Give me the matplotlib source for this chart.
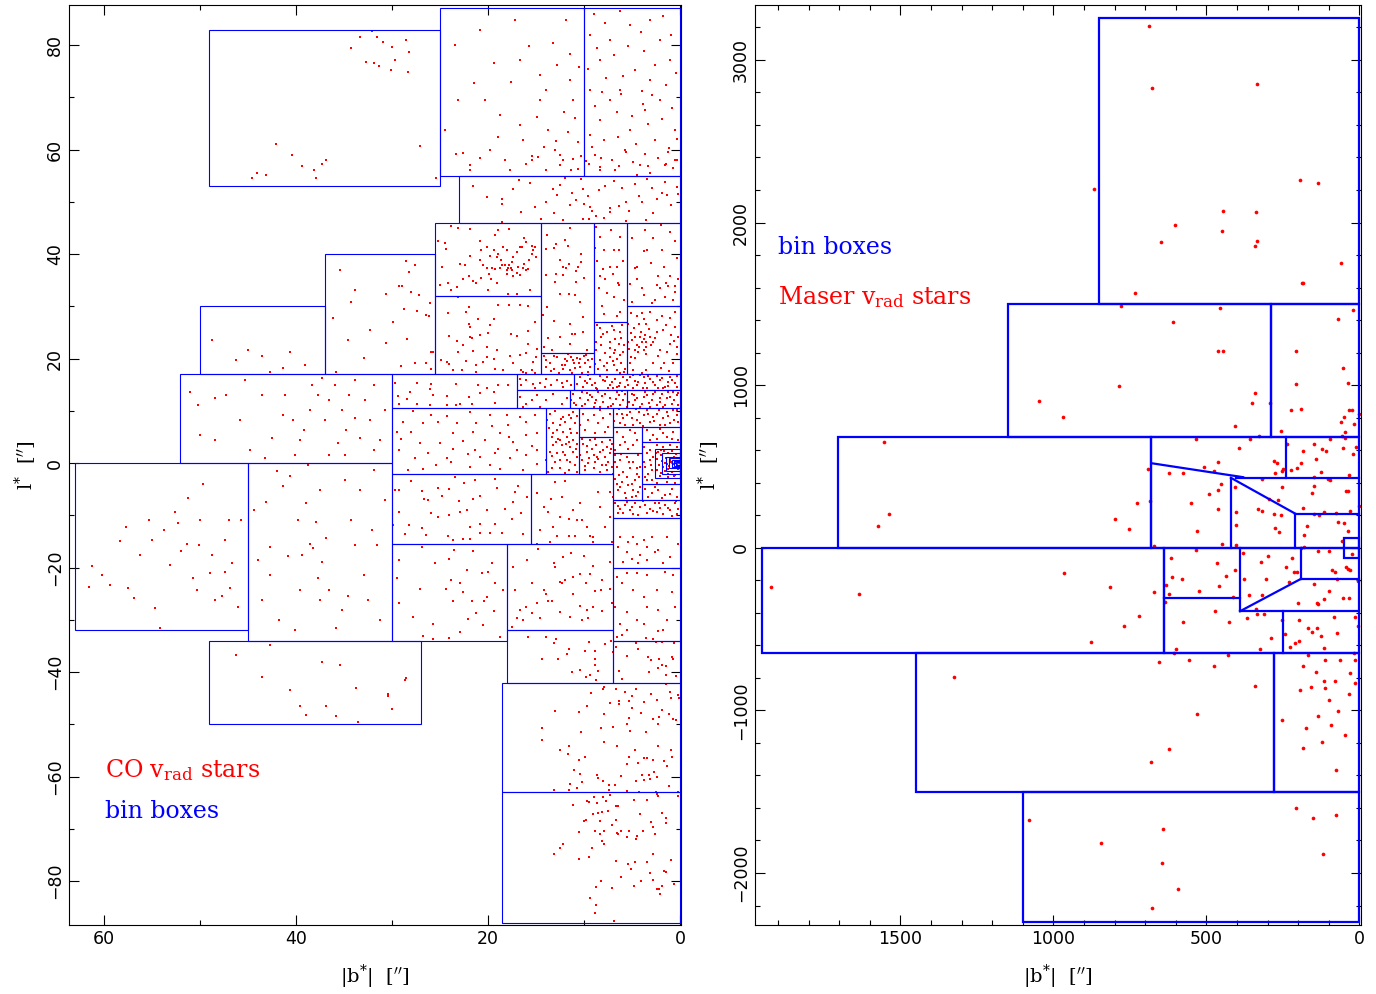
import matplotlib
matplotlib.use("Agg")
import matplotlib.pyplot as plt
from matplotlib.patches import Rectangle
from matplotlib.ticker import MultipleLocator

plt.rcParams["mathtext.fontset"] = "dejavuserif"

# ---------------- bin boxes (|b*| min, |b*| max, l* min, l* max) ----------------
co_boxes = [
    (25, 49, 53, 83), (10, 25, 55, 87.1), (0, 10, 55, 87.1), (0, 23, 46, 55),
    (14.5, 25.5, 32, 46), (14.5, 25.5, 17, 32), (9, 14.5, 21, 46), (9, 14.5, 17, 21),
    (5.5, 9, 27, 46), (5.5, 9, 17, 27), (0, 5.5, 30, 46), (0, 5.5, 17, 30),
    (25.5, 37, 17, 40), (37, 50, 17, 30), (30, 52, 0, 17), (45, 63, -32, 0),
    (30, 45, -34, 0), (27, 49, -50, -34), (17, 30, 10.5, 17), (11, 17, 14, 17),
    (0, 11, 14, 17), (11.5, 17, 10.5, 14), (5.5, 11.5, 10.5, 14), (0, 5.5, 10.5, 14),
    (14, 30, -2, 10.5), (10.5, 14, -2, 10.5), (7, 10.5, 5, 10.5), (7, 10.5, -2, 5),
    (0, 7, 7, 10.5), (4, 7, 2, 7), (4, 7, -7, 2), (0, 4, 4, 7), (0, 4, -4, 4),
    (0, 4, -7, -4), (0, 7, -10.5, -7), (0, 7, -20, -10.5), (0, 7, -34, -20),
    (0, 7, -42, -34), (15.5, 30, -15.5, -2), (7, 15.5, -15.5, -2), (18, 30, -34, -15.5),
    (7, 18, -32, -15.5), (7, 18, -42, -32), (0, 18.5, -63, -42), (0, 18.5, -88, -63),
    (0, 2.6, -2.8, 2.7), (0, 1.9, -2.1, 1.9), (0, 1.45, -1.5, 1.2), (0, 1.1, -1.0, 0.9),
    (0, 0.85, -0.8, 0.7), (0, 0.6, -0.55, 0.5), (0, 0.4, -0.35, 0.3),
]

maser_boxes = [
    (0, 850, 1500, 3260), (290, 1150, 680, 1500), (0, 290, 680, 1500),
    (680, 1705, 0, 680), (0, 680, 0, 680), (640, 1953, -650, 0), (0, 640, -650, 0),
    (0, 50, -60, 60), (280, 1450, -1500, -650), (0, 280, -1500, -650),
    (0, 1100, -2300, -1500),
]

# extra bin edges inside the maser boxes (b1, l1, b2, l2)
maser_edges = [
    (240, 430, 240, 680), (403, 430, 0, 430), (420, 0, 420, 430),
    (210, 0, 210, 210), (210, 210, 0, 210), (680, 520, 380, 434),
    (420, 430, 210, 210), (640, -310, 390, -310), (390, 0, 390, -390),
    (390, -390, 190, -190), (190, 0, 190, -190), (190, -190, 0, -190),
    (390, -390, 0, -390), (250, -390, 250, -650),
]

# ---------------- CO v_rad stars (|b*|, l*) ----------------
co_outer = [
    (32.1, 82.7), (31.5, 81.5), (33.3, 81.5), (30.9, 80.6), (34.2, 79.4), (28.5, 81.0),
    (30.0, 79.6), (28.2, 78.7), (32.7, 76.7), (31.8, 76.6), (31.3, 76.0), (30.1, 75.2),
    (28.3, 74.9), (29.7, 77.1), (42.0, 61.1), (44.5, 54.6), (44.0, 55.5), (40.4, 58.9),
    (39.3, 56.8), (38.1, 56.1), (37.3, 57.2), (36.8, 58.0), (43.1, 55.1), (37.9, 54.5),
    (27.1, 60.7), (25.4, 54.5),
    (61.25, -19.7), (60.2, -21.4), (59.3, -23.35), (58.3, -14.9), (57.7, -12.25),
    (56.25, -17.6), (55.3, -10.9), (55.0, -14.7), (54.6, -27.75), (53.75, -12.8),
    (53.1, -19.5), (52.6, -9.4), (52.2, -11.5), (51.9, -16.8), (51.35, -15.5),
    (51.25, -6.7), (50.7, -22.0), (50.3, -24.3), (50.0, -10.9), (49.6, -4.0),
    (48.96, -21.05), (48.75, -17.6), (48.4, -26.2), (47.7, -25.45), (47.4, -20.9),
    (46.98, -10.9), (46.8, -23.9), (46.04, -27.6), (45.7, -10.9), (61.5, -23.7),
    (56.8, -25.8), (54.1, -31.6), (57.5, -23.9), (50.1, -15.7), (47.4, -14.7), (46.6, -19.1),
    (44.3, -9.0), (43.1, -7.5), (42.7, -16.1), (41.9, -1.5), (41.35, -4.4), (40.8, -17.8),
    (40.6, -2.5), (39.8, -10.9), (39.6, -24.3), (39.3, -17.6), (38.96, -7.65), (38.75, -0.3),
    (38.5, -15.5), (38.2, -16.3), (37.9, -11.3), (37.7, -22.0), (37.5, -26.2), (37.3, -18.9),
    (36.8, -14.35), (36.5, -24.3), (35.8, -31.6), (35.2, -28.1), (34.6, -25.45), (34.2, -10.9),
    (33.85, -15.7), (33.3, -5.2), (32.9, -21.4), (32.5, -26.2), (32.1, -12.8), (31.5, -15.7),
    (31.25, -30.0), (30.7, -7.1), (43.5, -26.2), (41.7, -30.0), (40.1, -32.0), (42.7, -21.4),
    (43.96, -18.6), (34.9, -3.25), (37.5, -5.2), (31.8, -1.3),
    (51.0, 13.6), (50.2, 11.1), (48.4, 12.4), (47.3, 13.0), (45.3, 15.9), (43.5, 13.0),
    (42.5, 4.8), (41.35, 9.2), (40.3, 8.2), (39.6, 4.4), (38.5, 10.1), (38.3, 14.9),
    (37.7, 13.0), (37.3, 16.3), (36.9, 8.2), (36.5, 12.1), (35.9, 14.9), (35.6, 3.8),
    (35.2, 10.1), (34.8, 6.3), (34.4, 13.0), (33.85, 8.6), (33.3, 4.8), (32.8, 12.1),
    (32.3, 8.2), (31.8, 14.9), (31.25, 4.4), (30.7, 10.1), (48.4, 4.4), (45.8, 8.2),
    (44.8, 2.5), (43.2, 0.96), (40.1, 1.5), (36.5, 1.5), (31.8, 2.5), (50.0, 5.4),
    (41.1, 13.0), (39.1, 6.3), (34.9, 1.5), (33.85, 15.9),
    (45.0, 21.6), (43.5, 20.5), (41.35, 18.2), (40.6, 21.2), (39.06, 18.8), (48.75, 23.5),
    (46.25, 19.7), (42.7, 17.4),
    (28.5, 38.7), (27.6, 37.9), (28.2, 36.5), (29.2, 33.9), (28.9, 33.9), (30.6, 32.35),
    (28.0, 32.8), (27.15, 32.1), (26.04, 30.75), (28.75, 29.6), (27.4, 29.1), (26.4, 28.3),
    (26.1, 28.2), (29.86, 27.0), (28.4, 23.7), (30.55, 23.0), (25.87, 21.2), (29.06, 18.6),
    (27.6, 19.1), (26.4, 19.1), (35.4, 36.9), (33.85, 33.1), (36.1, 27.75), (34.6, 23.5),
    (32.9, 20.1), (35.8, 17.4), (32.3, 25.45), (34.2, 30.8), (25.7, 21.2), (25.9, 18.1),
    (46.25, -36.75), (43.5, -41.0), (40.6, -43.4), (39.6, -46.5), (38.96, -48.2),
    (36.8, -46.5), (35.8, -48.4), (33.5, -49.6), (37.3, -38.1), (35.4, -38.7), (30.4, -44.2),
    (28.6, -41.5), (33.75, -43.1), (42.7, -34.8), (28.5, -41.2), (30.4, -44.6), (30.0, -47.0),
]

co_north = [
    (17.2, 84.8), (20.3, 69.5), (18.75, 66.6), (16.7, 77.1), (14.6, 74.3), (13.75, 63.7),
    (13.0, 59.9), (11.9, 84.8), (11.5, 73.3), (11.15, 69.5), (10.6, 61.4), (12.5, 57.0),
    (15.4, 58.0), (16.7, 64.7), (18.2, 58.0), (19.8, 59.9), (20.8, 82.9), (23.4, 80.0),
    (23.1, 69.5), (24.5, 63.7), (21.9, 56.1), (17.7, 56.1), (14.6, 69.5),
    (13.2, 80.5), (11.4, 78.3), (12.8, 76.2), (10.5, 75.8), (13.9, 71.4), (12.1, 67.3),
    (10.9, 66.0), (14.9, 66.2), (11.7, 63.4), (12.9, 61.7), (10.3, 58.8), (11.3, 56.2),
    (14.2, 60.6), (16.3, 61.9), (18.9, 62.4), (21.4, 72.8), (17.6, 73.0), (15.7, 79.9),
    (19.4, 76.6), (22.6, 59.4),
    (9.4, 81.9), (8.3, 77.1), (7.3, 81.0), (6.25, 71.4), (4.7, 75.2), (3.6, 67.6), (2.6, 61.8),
    (2.1, 81.0), (1.04, 77.1), (0.5, 63.7), (8.3, 65.6), (5.7, 59.9), (4.2, 57.0), (1.6, 57.0),
    (8.85, 58.9), (7.3, 69.5), (5.2, 83.8), (3.1, 73.3), (9.4, 71.4), (2.1, 69.5), (0.5, 58.0),
    (6.8, 56.1), (3.1, 84.8), (8.3, 56.1), (5.2, 63.7), (9.4, 62.8),
    (9.0, 86.0), (7.8, 84.2), (6.2, 86.5), (4.1, 82.5), (1.8, 85.6), (0.9, 82.0), (8.6, 79.4),
    (6.9, 78.2), (5.4, 79.9), (3.8, 78.8), (2.6, 76.3), (0.4, 74.6), (9.6, 75.5), (7.7, 73.8),
    (5.9, 74.1), (4.0, 71.2), (2.9, 70.4), (1.5, 72.3), (8.9, 68.3), (6.6, 67.2), (5.0, 66.4),
    (3.3, 64.9), (1.9, 65.8), (0.8, 67.9), (9.2, 60.6), (7.9, 61.9), (6.5, 62.5), (4.6, 61.0),
    (3.6, 59.1), (2.3, 58.4), (1.1, 60.4), (0.3, 62.1), (7.1, 58.0), (4.9, 57.6), (9.8, 57.8),
    (3.9, 68.7), (6.1, 70.6), (8.1, 71.1),
    (23.3, 59.1), (21.9, 57.1), (20.8, 58.5), (16.0, 57.3), (15.4, 58.8), (14.8, 58.6),
    (14.0, 56.1), (12.5, 58.9), (12.2, 58.1), (11.1, 58.2), (10.6, 56.3), (9.5, 57.2),
    (8.3, 56.7), (8.2, 58.5), (6.4, 56.8), (5.6, 59.6), (3.3, 56.9), (1.5, 57.2), (1.2, 59.6),
    (0.7, 56.4), (0.35, 58.1), (3.1, 55.6), (4.5, 55.1),
    (12.5, 53.3), (13.2, 52.4), (12.8, 51.4), (14.0, 50.0), (18.5, 50.6), (18.5, 49.7),
    (16.5, 48.0), (14.5, 46.8), (13.1, 47.9), (11.5, 49.5), (10.8, 50.3), (10.3, 54.3),
    (10.07, 52.4), (10.0, 49.7), (9.4, 49.1), (9.2, 48.2), (8.75, 47.3), (7.8, 53.0),
    (7.3, 48.9), (7.3, 48.0), (6.35, 49.3), (5.66, 50.0), (5.3, 48.2), (3.5, 46.6),
    (3.4, 54.3), (2.4, 50.6), (1.9, 51.8), (1.6, 53.8), (1.4, 51.4), (0.35, 52.8),
    (0.25, 51.6), (10.07, 46.8), (9.45, 46.7), (5.6, 46.3), (18.5, 46.2),
    (21.5, 53.1), (20.1, 50.9), (17.4, 52.4), (15.6, 53.7), (15.1, 49.1), (12.0, 54.6),
    (11.2, 51.8), (9.6, 51.1), (8.4, 52.3), (6.9, 54.1), (6.0, 52.6), (4.3, 51.2),
    (4.7, 53.5), (2.9, 52.7), (0.9, 49.5), (2.8, 47.8), (4.0, 49.9), (7.9, 46.9),
    (12.2, 46.5), (16.8, 54.2),
]

co_upper = [
    (23.8, 45.4), (23.1, 45.1), (21.9, 44.8), (25.2, 42.6), (24.5, 42.2), (24.4, 41.0),
    (20.8, 42.6), (20.7, 40.8), (18.9, 44.6), (19.3, 43.6), (17.8, 44.8), (16.2, 43.1),
    (16.0, 42.4), (16.7, 41.3), (16.4, 41.4), (15.45, 41.6), (15.1, 41.4), (15.3, 40.8),
    (15.4, 40.1), (15.0, 39.5), (15.7, 38.9), (16.25, 38.2), (17.0, 40.4), (17.4, 39.5),
    (17.5, 38.5), (18.05, 40.8), (18.4, 41.4), (18.6, 38.9), (18.9, 40.1), (19.1, 39.4),
    (19.8, 39.6), (21.9, 39.7), (22.9, 38.1), (20.5, 37.9), (20.1, 37.3), (19.6, 37.3),
    (19.3, 37.1), (18.2, 37.9), (17.9, 37.4), (18.05, 36.9), (17.5, 36.9), (17.0, 36.4),
    (16.7, 36.0), (15.8, 37.1), (17.4, 35.8), (18.05, 36.2), (19.9, 36.2), (19.7, 35.3),
    (20.7, 35.5), (21.5, 34.8), (22.6, 35.2), (24.8, 37.6), (25.0, 34.1), (23.2, 33.7),
    (19.97, 33.1), (17.9, 32.3), (17.0, 32.3), (15.6, 33.1), (18.75, 37.3), (18.5, 37.9),
    (17.8, 37.9), (17.6, 37.3), (16.9, 37.6), (16.3, 37.3), (16.0, 36.9), (19.4, 40.8),
    (20.1, 41.4), (20.8, 38.9), (22.4, 37.9), (22.0, 35.9), (24.1, 34.4), (23.8, 33.1),
    (21.2, 34.4), (19.1, 34.4),
    (24.2, 28.8), (22.0, 29.9), (22.3, 28.9), (23.1, 31.8), (21.0, 27.6), (19.4, 27.5),
    (22.0, 26.7), (19.8, 26.5), (21.9, 26.0), (18.9, 30.2), (17.8, 30.2), (16.7, 30.3),
    (15.8, 30.1), (15.1, 27.0), (15.8, 25.3), (17.0, 24.4), (17.6, 24.7), (19.96, 24.9),
    (21.9, 24.2), (24.0, 24.4), (23.2, 23.4), (22.6, 22.7), (21.7, 24.0), (20.8, 24.6),
    (23.1, 21.2), (21.5, 21.4), (20.1, 22.3), (19.1, 21.6), (17.7, 20.5), (16.7, 20.7),
    (15.8, 22.9), (16.0, 21.0), (15.0, 20.4), (14.9, 21.8), (15.3, 19.4), (24.9, 19.7),
    (24.3, 19.3), (24.0, 18.9), (23.6, 17.8), (22.7, 17.8), (22.3, 19.5), (21.2, 18.8),
    (21.25, 17.5), (20.5, 19.4), (19.4, 19.85), (19.3, 18.1), (18.4, 17.8), (17.4, 19.2),
    (16.5, 17.9), (16.3, 17.5), (16.0, 17.3), (15.45, 17.9), (15.1, 17.3), (20.1, 20.4),
    (11.5, 45.0), (13.8, 43.6), (13.9, 40.9), (12.9, 41.9), (13.1, 41.1), (11.98, 42.7),
    (11.7, 41.6), (12.5, 38.9), (11.9, 37.3), (12.2, 37.5), (11.6, 38.1), (10.3, 40.1),
    (10.3, 38.5), (10.6, 37.5), (10.8, 36.8), (12.9, 36.3), (13.96, 36.1), (13.0, 34.7),
    (12.2, 36.0), (10.8, 34.7), (10.0, 35.5), (12.5, 32.3), (11.6, 32.3), (10.9, 32.2),
    (10.4, 30.9), (13.8, 29.9), (14.3, 28.3), (13.1, 27.2), (11.5, 26.7), (10.07, 28.0),
    (11.2, 24.8), (10.9, 24.7), (10.07, 25.1), (12.5, 24.2), (13.7, 23.9), (14.2, 22.3),
    (13.3, 21.6), (11.5, 22.9), (9.7, 21.6),
    (14.2, 20.5), (13.1, 18.1), (13.9, 18.4), (13.5, 19.1), (12.3, 18.8), (11.8, 19.6),
    (11.3, 20.4), (11.0, 19.1), (10.7, 20.2), (10.4, 18.4), (10.0, 20.5), (9.55, 19.7),
    (9.4, 18.4), (12.2, 18.0), (12.6, 17.2), (11.2, 17.3), (10.2, 17.3), (9.55, 17.5),
    (11.7, 20.9), (11.1, 19.7), (10.4, 20.0), (9.9, 19.1), (11.98, 20.0),
    (14.0, 19.8), (13.4, 17.6), (12.8, 20.3), (12.0, 18.8), (11.5, 17.8), (10.9, 18.3),
    (10.5, 19.2), (9.8, 20.7), (9.2, 19.9), (13.1, 20.6),
    (7.2, 44.6), (8.3, 43.2), (7.9, 40.8), (6.9, 40.8), (6.35, 40.8), (8.6, 38.6),
    (8.05, 37.1), (7.3, 37.5), (6.6, 37.6), (7.8, 35.2), (6.4, 34.1), (7.6, 32.5),
    (6.9, 31.8), (7.9, 28.5), (6.25, 29.0), (6.5, 34.5), (8.3, 35.8),
    (8.7, 45.2), (6.2, 43.3), (8.8, 41.2), (5.9, 38.6), (7.0, 36.2), (8.4, 33.6),
    (5.8, 31.3), (8.1, 30.1), (6.6, 28.1),
    (8.3, 25.8), (7.6, 25.2), (6.9, 25.5), (6.25, 25.2), (6.1, 23.9), (6.8, 23.7),
    (7.3, 23.2), (8.2, 22.6), (8.7, 21.6), (6.8, 21.6), (5.9, 21.3), (7.8, 21.0),
    (7.3, 20.4), (6.6, 20.0), (8.3, 19.7), (7.6, 19.1), (6.9, 18.8), (6.1, 19.1),
    (8.5, 18.1), (7.6, 17.8), (6.6, 17.8), (5.7, 18.1), (6.25, 17.2), (8.75, 23.2),
    (8.2, 24.2), (7.3, 21.95), (6.9, 21.0), (6.4, 22.9),
    (8.6, 26.5), (7.1, 26.2), (6.0, 26.4), (8.0, 24.8), (5.8, 22.6), (8.9, 19.0),
    (7.0, 19.6), (6.2, 20.7), (7.9, 18.6), (5.8, 17.4),
    (1.0, 44.3), (0.5, 42.6), (4.96, 43.1), (2.8, 43.1), (3.8, 40.6), (3.4, 40.8),
    (1.9, 40.8), (4.5, 37.5), (4.7, 37.3), (2.3, 35.8), (1.0, 35.8), (0.2, 35.3),
    (2.4, 34.1), (2.1, 33.6), (1.5, 34.4), (1.3, 33.9), (0.5, 34.0), (4.0, 33.6),
    (5.2, 34.3), (1.6, 31.8), (0.5, 32.8), (0.7, 31.2), (2.6, 31.2), (2.95, 30.7),
    (3.6, 44.7), (2.0, 45.5), (0.3, 39.2), (3.0, 38.3), (4.5, 35.3), (1.7, 37.6),
    (5.0, 30.8), (3.7, 32.2),
    (5.1, 28.8), (4.5, 28.2), (4.0, 28.65), (3.1, 29.0), (2.4, 27.4), (1.5, 26.4),
    (1.0, 27.7), (0.5, 29.0), (0.5, 26.1), (5.4, 26.7), (4.3, 26.7), (3.5, 26.7),
    (5.1, 24.95), (4.7, 24.2), (4.2, 24.2), (3.65, 24.5), (3.1, 24.2), (2.8, 23.2),
    (3.5, 23.2), (4.0, 23.2), (4.5, 22.6), (5.0, 23.55), (5.4, 23.2), (4.7, 21.6),
    (4.3, 22.3), (3.8, 21.6), (3.5, 22.3), (2.1, 21.6), (1.0, 22.9), (0.3, 22.3),
    (0.35, 20.9), (5.1, 20.4), (4.7, 20.2), (3.5, 20.9), (2.8, 19.1), (1.7, 19.1),
    (0.7, 19.1), (4.9, 17.8), (3.5, 17.8), (4.0, 17.3), (5.2, 19.1), (2.4, 25.1),
    (1.8, 25.5), (0.9, 24.5), (0.2, 24.2),
    (4.8, 25.9), (4.1, 25.2), (3.8, 23.8), (3.2, 25.7), (2.6, 24.0), (4.4, 21.2),
    (3.0, 22.6), (2.3, 20.5), (1.4, 21.2), (0.6, 23.4), (1.9, 28.2), (3.7, 27.6),
    (2.0, 18.2), (1.1, 17.7), (5.3, 21.9),
]

co_middle = [
    (29.7, 15.4), (29.4, 12.8), (28.4, 12.2), (27.4, 15.4), (25.9, 15.2), (26.0, 14.1),
    (25.7, 13.1), (24.3, 12.8), (23.3, 11.1), (22.9, 11.4), (22.0, 12.7), (23.3, 15.1),
    (21.0, 14.9), (19.3, 11.6), (17.9, 14.9), (20.8, 13.5), (20.1, 14.3), (21.7, 11.3),
    (24.3, 11.1), (26.0, 11.2), (27.4, 11.4), (29.2, 11.4), (28.1, 13.6), (19.4, 13.6),
    (18.9, 14.9),
    (16.5, 14.9), (16.0, 15.9), (15.3, 15.1), (14.6, 15.4), (13.9, 16.2), (13.4, 14.9),
    (12.85, 15.9), (12.3, 15.4), (11.8, 15.8), (11.3, 14.9), (14.06, 14.6), (15.1, 14.3),
    (16.7, 16.2), (12.15, 14.6),
    (10.4, 16.5), (9.9, 15.75), (9.4, 16.2), (8.85, 15.25), (8.3, 16.65), (7.8, 15.75),
    (7.3, 14.9), (6.8, 16.2), (6.25, 15.4), (5.75, 14.6), (5.2, 16.5), (4.7, 15.75),
    (4.2, 16.8), (3.65, 15.25), (3.1, 16.2), (2.6, 14.9), (2.1, 15.9), (1.56, 14.6),
    (1.04, 16.5), (0.52, 15.4), (10.07, 14.6), (8.7, 14.3), (6.95, 14.3), (4.86, 14.3),
    (3.47, 14.3), (1.74, 14.3), (9.7, 15.25), (7.6, 16.4), (5.56, 15.9), (3.8, 16.4),
    (2.43, 16.65), (1.2, 15.6), (0.35, 14.5), (6.4, 14.7), (4.5, 14.9),
    (10.7, 15.1), (9.6, 16.8), (8.6, 14.2), (8.0, 16.0), (7.1, 15.6), (6.6, 14.5),
    (5.9, 16.4), (5.4, 15.0), (4.4, 15.5), (3.9, 14.4), (3.3, 16.7), (2.8, 15.5),
    (2.3, 14.3), (1.9, 16.3), (1.3, 14.8), (0.8, 15.9), (0.3, 16.6), (9.2, 14.9),
    (7.5, 14.3), (4.9, 16.9),
    (16.7, 12.7), (16.0, 11.4), (14.9, 13.0), (13.9, 12.05), (13.2, 13.3), (12.3, 11.4),
    (16.3, 10.8), (14.6, 10.8), (11.8, 12.4), (15.45, 12.05),
    (11.1, 13.3), (10.4, 12.4), (9.9, 11.4), (9.4, 13.0), (8.7, 12.05), (8.3, 10.8),
    (7.8, 13.3), (7.3, 12.4), (6.95, 11.4), (6.4, 13.0), (5.9, 12.05), (5.56, 10.8),
    (10.8, 11.1), (9.0, 10.8), (7.5, 10.8), (6.25, 11.1), (10.24, 13.65), (8.5, 13.65),
    (6.6, 13.65), (11.3, 12.05), (9.55, 12.05), (7.99, 11.7), (5.75, 13.3),
    (5.0, 13.3), (4.5, 12.4), (4.0, 11.4), (3.47, 13.0), (2.95, 12.05), (2.43, 11.1),
    (1.9, 13.3), (1.4, 12.4), (0.87, 11.4), (0.35, 13.0), (4.86, 11.1), (3.1, 10.8),
    (1.74, 10.8), (0.7, 13.65), (3.65, 13.65), (4.7, 12.05), (2.08, 11.7), (1.04, 12.7),
    (0.17, 11.1), (2.78, 13.3),
    (11.0, 11.6), (10.2, 10.9), (9.7, 13.5), (8.9, 11.5), (8.1, 12.8), (7.2, 10.9),
    (6.7, 12.2), (6.0, 13.8), (5.3, 11.8), (4.8, 13.0), (4.2, 10.7), (3.8, 12.6),
    (3.2, 11.6), (2.6, 13.6), (2.1, 12.4), (1.6, 11.2), (1.2, 13.6), (0.6, 12.0),
    (0.2, 13.4), (9.2, 12.6),
    (28.8, 7.9), (26.7, 7.6), (25.2, 7.8), (23.2, 7.6), (21.2, 7.6), (19.6, 7.1),
    (17.9, 7.4), (29.0, 4.7), (27.1, 3.9), (25.0, 3.8), (22.6, 4.3), (20.3, 4.5),
    (17.8, 5.0), (16.0, 5.4), (14.9, 5.7), (27.6, 0.9), (26.2, 2.0), (24.3, 0.9),
    (22.1, 1.7), (20.8, 1.2), (19.3, 1.85), (17.7, 0.9), (16.0, 1.5), (28.3, -1.3),
    (26.7, -1.2), (25.35, -0.4), (23.8, 0.25), (21.9, -0.7), (19.8, -0.4), (18.7, -1.2),
    (16.3, -1.3), (14.9, -0.2), (15.1, 9.2), (16.7, 8.9), (18.05, 9.2), (16.0, 7.9),
    (29.5, 6.0), (27.95, 6.0), (23.6, 5.7), (21.5, 6.0), (18.75, 5.8), (17.4, 4.1),
    (15.45, 3.25), (24.3, 9.0), (21.9, 9.8), (19.8, 9.2), (25.9, 9.2), (27.8, 10.0),
    (23.6, 2.8), (21.35, 2.6), (18.9, 2.8), (17.0, 2.6), (14.9, 2.5), (29.2, 2.5),
    (13.2, 7.6), (12.5, 7.27), (11.98, 7.9), (11.3, 8.55), (10.9, 7.6), (12.85, 6.3),
    (12.15, 6.0), (11.46, 6.6), (10.76, 5.7), (13.37, 5.04), (12.7, 4.72), (11.8, 5.04),
    (11.1, 4.4), (13.2, 3.44), (12.3, 3.44), (11.46, 3.13), (10.76, 3.76), (13.5, 2.17),
    (12.85, 1.85), (11.98, 1.53), (11.1, 2.17), (13.9, 0.57), (13.0, 0.25), (11.8, 0.57),
    (10.9, -0.38), (12.5, -1.02), (13.37, -1.02), (11.6, -1.34), (10.76, 1.21),
    (12.15, 8.87), (13.5, 9.5), (11.1, 9.8), (12.5, 4.4), (11.6, 4.08), (13.2, 5.7),
    (11.3, 5.7), (12.15, 2.17),
    (13.8, 8.2), (13.0, 9.9), (12.4, 8.5), (11.6, 9.3), (10.7, 9.0), (13.6, 6.7),
    (12.9, 4.0), (11.9, 3.6), (10.8, 2.8), (13.3, 1.3), (12.5, 0.6), (11.4, 0.2),
    (10.7, -1.6), (12.0, -1.8), (13.7, -1.6),
    (10.07, 9.5), (9.55, 8.2), (9.0, 9.2), (8.5, 7.6), (7.99, 8.55), (7.45, 6.95),
    (9.9, 6.3), (8.85, 5.7), (7.8, 6.0), (7.3, 9.5), (10.4, 7.27), (8.3, 10.1),
    (10.07, 3.76), (9.4, 4.4), (8.7, 3.44), (8.16, 4.08), (7.64, 3.13), (7.1, 3.76),
    (9.7, 2.17), (9.0, 1.53), (8.3, 2.17), (7.8, 1.21), (7.3, 1.85), (10.24, 0.57),
    (9.55, -0.06), (8.85, 0.25), (8.16, -0.38), (7.45, 0.25), (9.9, -1.34), (9.0, -1.02),
    (8.3, -1.66), (7.64, -1.34), (7.1, -0.7), (8.5, 0.89), (9.2, 2.8), (10.4, 1.53),
    (10.2, 4.6), (9.7, 3.2), (8.9, 4.7), (8.0, 2.6), (7.3, 4.5), (9.5, 0.9), (8.6, 1.2),
    (7.7, -0.4), (7.2, 2.8), (9.9, -0.5),
    (6.6, 9.5), (5.9, 8.55), (5.2, 9.8), (4.5, 8.2), (3.8, 9.2), (3.1, 7.9), (2.43, 9.5),
    (1.74, 8.55), (1.04, 7.6), (0.35, 9.2), (6.25, 7.6), (4.86, 7.27), (3.47, 10.1),
    (2.08, 7.27), (0.7, 10.1), (5.56, 9.2), (2.78, 8.87), (1.39, 9.8), (0.17, 7.9), (4.17, 7.6),
    (6.9, 8.0), (6.3, 10.3), (5.7, 7.3), (5.0, 8.6), (4.3, 9.7), (3.9, 7.2), (3.3, 9.4),
    (2.7, 8.0), (2.2, 10.2), (1.6, 7.4), (1.2, 9.0), (0.6, 8.3), (0.3, 10.2), (4.6, 10.3),
    (6.0, 9.4),
    (6.6, 6.0), (5.9, 5.04), (5.2, 6.3), (4.5, 4.4), (6.25, 3.44), (5.4, 2.8), (4.7, 5.7),
    (6.8, 2.5), (4.86, 3.44), (5.73, 4.08),
    (6.77, 1.53), (6.25, 0.57), (5.56, 1.21), (4.86, 0.25), (4.34, 1.53), (6.6, -0.7),
    (5.9, -1.66), (5.2, -1.02), (4.5, -1.98), (6.77, -2.94), (6.08, -3.57), (5.4, -4.21),
    (4.7, -3.25), (4.17, -4.53), (6.42, -5.17), (5.73, -5.8), (5.03, -6.44), (4.34, -5.49),
    (6.94, -6.44), (4.86, -5.17), (5.56, -2.62), (6.25, -4.53), (4.17, -0.7), (6.94, -1.98),
    (6.8, 0.2), (6.1, 1.7), (5.3, 0.3), (4.5, -0.9), (6.3, -2.2), (5.0, -3.9), (4.3, -2.7),
    (6.6, -4.0), (5.6, -6.7), (4.6, -6.2),
    (3.47, 6.3), (2.78, 5.36), (2.08, 6.6), (1.39, 5.04), (0.7, 6.0), (0.17, 4.4),
    (3.1, 4.4), (1.74, 5.8), (0.87, 4.72), (2.43, 4.72),
    (3.8, 3.13), (3.47, 1.85), (3.1, 0.57), (3.65, -0.7), (3.3, -1.98), (2.95, -3.25),
    (2.43, 3.44), (1.74, 3.13), (1.04, 3.44), (0.35, 3.13), (3.47, -3.25), (2.43, -3.76),
    (1.39, -3.57), (0.52, -3.76), (3.8, 0.25), (3.1, 2.5), (2.95, -1.34), (3.65, -2.62),
    (2.78, 1.21), (3.06, -0.38),
    (2.3, 2.2), (2.0, 1.5), (1.7, 2.4), (1.2, 1.9), (0.8, 2.3), (0.4, 1.7), (2.4, 0.8),
    (1.9, 0.4), (1.5, 1.0), (1.0, 0.6), (0.6, 1.1), (0.2, 0.5), (2.2, -0.3), (1.8, -0.8),
    (1.4, -0.2), (1.1, -0.6), (0.7, -0.1), (0.3, -0.4), (2.4, -1.4), (2.0, -1.9),
    (1.6, -1.5), (1.2, -2.1), (0.8, -1.6), (0.5, -2.2), (0.2, -1.1), (2.1, -2.5),
    (1.3, -2.6), (0.6, -2.5), (0.9, 0.2), (0.5, 0.3), (0.35, -0.15), (0.15, 0.1),
    (1.6, 0.1), (1.2, -1.1), (0.4, 0.9), (0.7, -0.9), (2.5, 1.9), (1.95, 2.5),
    (3.65, -4.85), (2.95, -5.8), (2.26, -5.17), (1.56, -6.1), (0.87, -4.85), (0.35, -6.44),
    (3.3, -6.57), (1.9, -6.76), (1.04, -5.93), (2.6, -4.53),
    (6.77, -7.72), (6.25, -8.68), (5.73, -8.04), (5.2, -9.0), (4.7, -7.72), (4.17, -8.36),
    (3.65, -8.04), (3.1, -8.68), (2.6, -7.72), (2.08, -8.49), (1.56, -8.04), (1.04, -9.0),
    (0.52, -7.72), (0.17, -8.68), (6.42, -9.63), (4.86, -9.76), (3.47, -9.63),
    (1.74, -9.76), (0.35, -9.76), (5.56, -7.4), (2.43, -9.3),
    (6.5, -8.2), (5.9, -9.5), (5.0, -8.3), (4.4, -9.9), (3.9, -7.3), (2.8, -9.1),
    (2.2, -7.6), (1.3, -8.6), (0.8, -10.1), (0.4, -7.3),
]

co_lower = [
    (6.25, -14.1), (5.4, -15.06), (4.86, -14.1), (4.5, -15.4), (3.8, -14.7), (3.47, -16.0),
    (2.95, -14.1), (2.26, -16.65), (1.39, -14.1), (0.17, -15.4), (5.9, -18.9), (5.03, -18.25),
    (4.34, -19.2), (3.47, -18.6), (2.6, -16.97), (1.74, -19.2), (6.42, -16.0), (4.17, -17.6),
    (5.56, -16.97), (1.04, -17.9),
    (6.6, -21.76), (5.56, -21.1), (4.5, -20.99), (3.47, -21.44), (1.56, -20.8), (0.7, -21.44),
    (6.08, -23.0), (4.86, -24.3), (3.8, -25.6), (2.43, -24.3), (0.87, -24.6), (6.77, -27.5),
    (5.56, -28.5), (4.5, -30.05), (3.47, -27.5), (2.26, -28.1), (1.39, -30.05), (0.52, -27.5),
    (6.25, -30.7), (3.8, -30.7), (5.56, -31.96), (1.74, -31.96), (2.78, -33.56), (6.6, -33.2),
    (29.7, -5.17), (29.2, -5.17), (28.0, -3.45), (26.9, -5.3), (26.6, -6.9), (26.2, -6.96),
    (25.2, -4.66), (24.8, -6.32), (24.0, -4.85), (23.4, -2.74), (23.0, -7.27), (22.5, -3.89),
    (22.2, -9.0), (21.5, -6.9), (21.35, -3.13), (20.8, -6.19), (20.07, -8.87), (19.3, -3.06),
    (19.0, -4.72), (18.2, -8.74), (17.4, -7.34), (17.2, -5.6), (16.9, -4.34), (15.97, -6.44),
    (29.2, -9.44), (28.2, -11.74), (26.9, -12.5), (25.9, -9.63), (25.2, -10.27), (24.0, -9.95),
    (22.9, -9.3), (21.9, -12.2), (20.8, -11.55), (19.3, -11.55), (18.5, -13.46), (17.5, -10.78),
    (16.5, -9.63), (29.86, -11.87), (28.6, -13.59), (26.4, -13.78), (24.1, -13.97),
    (22.6, -14.6), (20.8, -13.46), (19.8, -13.33), (16.3, -13.59), (23.6, -14.74), (21.9, -14.55),
    (13.0, -3.57), (11.98, -3.38), (14.9, -5.8), (13.47, -6.83), (12.3, -6.44), (11.1, -9.0),
    (10.4, -7.72), (8.5, -5.49), (7.3, -5.49), (10.24, -10.91), (9.7, -12.2), (13.26, -12.2),
    (12.85, -13.97), (11.6, -13.91), (10.9, -13.91), (9.38, -13.91), (9.03, -14.1),
    (7.8, -12.2), (14.2, -8.36), (12.5, -10.27), (13.7, -9.3), (11.6, -10.6), (8.33, -8.36),
    (7.3, -10.27), (14.6, -12.8), (7.1, -15.06), (9.03, -15.06), (13.5, -15.06), (14.9, -15.4),
    (10.7, -10.91),
    (29.2, -18.57), (26.9, -16.0), (25.5, -19.08), (24.0, -18.25), (23.5, -16.65),
    (22.85, -23.03), (22.2, -20.48), (21.5, -16.84), (20.66, -20.99), (19.6, -19.08),
    (19.3, -23.03), (29.5, -22.07), (27.1, -24.18), (24.4, -24.18), (23.8, -22.39),
    (22.6, -24.75), (21.7, -26.35), (21.2, -28.65), (20.4, -26.35), (20.07, -25.58),
    (19.97, -20.8), (18.4, -24.3), (23.6, -26.35), (22.05, -29.92), (19.4, -28.26),
    (20.5, -31.0), (26.7, -33.1), (24.0, -33.5), (18.75, -33.24), (25.7, -33.56),
    (29.2, -26.86), (27.8, -29.4), (25.7, -30.7), (22.9, -32.3),
    (14.8, -16.5), (13.1, -19.08), (12.2, -17.93), (11.3, -17.16), (10.0, -17.8), (9.03, -19.71),
    (7.3, -18.88), (17.2, -24.3), (15.45, -22.9), (14.2, -24.3), (13.7, -26.4), (13.0, -19.84),
    (12.5, -22.7), (11.98, -22.39), (11.1, -21.76), (10.4, -21.25), (9.8, -23.03), (9.38, -21.3),
    (8.85, -24.5), (8.16, -22.27), (7.3, -24.18), (16.0, -27.6), (14.9, -26.86), (13.37, -26.4),
    (12.3, -23.03), (11.1, -25.07), (10.4, -27.3), (9.7, -28.1), (9.03, -27.5), (8.23, -24.3),
    (7.1, -26.86), (17.0, -29.73), (16.3, -30.05), (15.45, -28.77), (14.6, -29.73),
    (13.9, -24.95), (12.5, -28.45), (11.46, -29.4), (10.24, -30.05), (9.55, -29.73),
    (8.16, -28.26), (16.7, -28.1), (17.5, -31.3), (15.97, -18.57), (17.4, -19.84),
    (15.8, -33.24), (13.96, -33.24), (12.9, -33.6), (13.1, -34.5), (11.56, -35.6),
    (11.8, -36.6), (14.4, -37.4), (12.74, -37.5), (9.93, -35.98), (8.85, -35.9),
    (8.85, -37.5), (8.85, -38.66), (9.48, -34.26), (7.85, -34.7), (7.2, -34.07),
    (11.2, -39.9), (10.38, -39.5), (9.8, -40.9), (9.38, -40.5), (8.5, -39.8), (8.75, -41.5),
    (6.08, -32.9), (3.54, -33.4), (2.33, -32.1), (5.49, -36.9), (4.62, -34.5), (4.41, -35.6),
    (3.37, -37.1), (3.06, -37.7), (2.19, -37.5), (1.91, -38.7), (1.49, -38.8), (0.83, -37.1),
    (0.76, -37.4), (0.66, -34.5), (6.67, -35.15), (6.35, -39.8), (6.0, -41.4), (3.2, -39.9),
    (2.29, -39.3), (1.46, -40.5), (0.42, -40.8), (6.94, -36.2), (2.53, -34.3), (1.84, -34.2),
]

co_south = [
    (9.27, -43.9), (8.06, -43.2), (7.88, -42.8), (6.7, -43.3), (5.73, -43.8), (5.28, -45.5),
    (5.03, -44.5), (4.58, -43.3), (3.75, -45.7), (3.06, -44.15), (2.43, -45.4), (1.46, -42.3),
    (1.04, -43.8), (0.97, -45.04), (0.17, -44.4), (0.1, -45.04), (13.0, -47.4), (10.52, -47.6),
    (9.65, -46.5), (7.92, -48.1), (7.3, -45.9), (6.35, -45.55), (6.35, -46.1), (5.35, -48.7),
    (4.97, -46.8), (4.1, -47.8), (2.78, -48.9), (2.22, -48.5), (1.84, -47.2), (1.15, -48.1),
    (0.76, -49.0), (0.42, -49.25), (14.34, -50.65), (14.34, -52.9), (10.35, -51.55),
    (8.23, -50.7), (6.98, -50.5), (5.56, -49.9), (5.24, -51.2), (3.58, -51.4), (2.29, -49.9),
    (12.5, -54.9), (11.56, -54.2), (11.63, -55.6), (9.93, -56.2), (10.52, -56.8),
    (7.95, -53.3), (6.6, -54.2), (5.31, -56.3), (4.72, -54.9), (4.38, -57.3), (3.75, -56.4),
    (3.4, -56.4), (2.85, -56.9), (2.29, -54.2), (1.7, -57.0), (1.32, -58.0), (0.9, -54.9),
    (0.83, -56.2), (11.04, -58.8), (10.42, -59.5), (10.21, -61.05), (11.46, -61.4),
    (11.53, -62.6), (13.16, -62.5), (10.76, -62.2), (8.6, -59.7), (8.5, -60.2), (8.06, -60.9),
    (7.4, -61.6), (6.74, -61.6), (7.36, -62.6), (6.18, -59.96), (5.52, -57.6), (4.58, -60.9),
    (3.72, -60.7), (3.96, -59.7), (3.26, -59.7), (3.09, -60.5), (2.74, -59.1), (2.43, -60.0),
    (1.18, -61.8), (5.49, -62.8), (4.3, -62.9), (2.47, -62.9), (0.17, -62.9),
    (11.11, -65.5), (9.65, -64.7), (9.51, -64.8), (8.92, -63.9), (8.65, -65.0), (7.99, -63.9),
    (7.67, -64.6), (7.3, -63.6), (6.63, -65.6), (6.49, -65.6), (4.79, -64.4), (3.47, -64.5),
    (2.43, -63.35), (2.26, -63.7), (0.17, -63.7), (8.12, -66.7), (8.5, -66.9), (9.03, -67.2),
    (8.3, -68.5), (7.53, -66.6), (7.12, -69.3), (6.67, -68.3), (4.2, -67.1), (1.875, -67.05),
    (1.49, -67.9), (1.46, -68.8), (10.49, -70.6), (9.97, -68.5), (9.83, -68.3), (8.89, -70.4),
    (8.33, -71.0), (7.95, -70.4), (6.6, -70.7), (6.46, -71.07), (6.18, -70.4), (5.56, -71.5),
    (5.31, -70.5), (4.58, -71.9), (4.44, -71.45), (3.89, -70.5), (3.06, -68.7), (2.78, -69.6),
    (2.64, -70.9), (12.22, -72.9), (12.5, -73.6), (13.16, -74.8), (10.52, -75.8),
    (9.51, -75.3), (9.13, -73.7), (8.16, -72.4), (7.95, -72.8), (6.7, -76.2), (5.42, -76.8),
    (5.1, -77.7), (4.65, -76.4), (3.47, -76.4), (2.78, -74.8), (0.97, -75.9), (6.15, -79.2),
    (4.79, -80.9), (4.03, -80.0), (2.85, -79.7), (2.43, -81.6), (2.15, -81.5), (2.12, -82.4),
    (1.875, -81.0), (1.63, -78.0), (1.46, -78.3), (3.09, -78.5), (0.66, -80.5), (8.26, -79.9),
    (8.75, -81.2), (7.12, -81.3), (9.41, -83.2), (8.75, -84.5), (8.85, -86.1), (6.875, -87.7),
]

# ---------------- Maser v_rad stars (|b*|, l*) ----------------
maser_north = [
    (688, 3209), (678, 2828), (335, 2852), (194, 2262), (136, 2244), (868, 2206),
    (338, 2065), (446, 2071), (603, 1986), (449, 1948), (649, 1881), (335, 1887),
    (341, 1856), (60, 1751), (188, 1628), (734, 1567),
    (185, 1626), (778, 1487), (457, 1477), (21, 1462), (608, 1389), (70, 1405),
    (462, 1210), (445, 1210), (206, 1210), (54, 1106), (785, 995), (38, 1011), (206, 1009),
    (1046, 905), (341, 954), (350, 888), (293, 891), (968, 806), (224, 850), (192, 852),
    (35, 845), (25, 845), (2, 823), (51, 806), (61, 774), (19, 759), (406, 749), (257, 716),
    (46, 710), (329, 690), (58, 688), (1554, 653), (535, 669), (357, 669), (95, 669),
    (238, 640), (48, 675), (149, 636), (394, 612), (185, 593), (121, 610), (108, 595),
    (54, 612), (11, 618), (21, 575), (142, 546), (462, 530), (279, 532), (271, 524),
    (192, 524), (508, 495), (691, 483), (249, 487), (252, 472), (224, 478), (204, 489),
    (622, 462), (577, 458), (475, 474), (277, 462), (126, 464), (34, 448), (147, 433),
    (320, 423), (103, 421), (95, 417), (453, 390), (408, 376), (149, 380), (463, 355),
    (252, 374), (493, 329), (156, 339), (43, 351), (38, 351), (265, 296), (297, 300),
    (685, 290), (549, 278), (726, 274), (3, 257), (185, 247), (462, 237), (330, 237),
    (318, 224), (403, 218), (279, 208), (257, 200), (116, 218), (77, 212), (31, 228),
    (147, 206), (131, 202), (798, 179), (403, 142), (171, 136), (52, 150), (70, 161),
    (277, 122), (262, 97), (531, 105), (752, 116), (181, 79), (38, 101), (1538, 206),
    (1572, 134), (58, 42), (180, 7), (192, 1), (672, 13), (403, 15), (448, 25),
]

maser_south = [
    (535, -11), (379, -30), (300, -50), (134, -18), (100, -18), (26, -40), (616, -65),
    (323, -85), (220, -65), (467, -96), (241, -120), (213, -149), (204, -149), (44, -116),
    (38, -128), (30, -139), (90, -137), (81, -149), (407, -137), (966, -153), (613, -182),
    (580, -192), (377, -192), (436, -173), (75, -190), (6, -204), (1922, -239), (816, -243),
    (632, -229), (458, -235), (306, -190), (229, -212), (149, -225), (1636, -284), (671, -272),
    (525, -268), (622, -282), (361, -288), (100, -268), (413, -303), (634, -331), (318, -290),
    (202, -337), (139, -341), (134, -348), (116, -315), (54, -307), (34, -307), (472, -387),
    (339, -378), (313, -409), (336, -405), (721, -419), (427, -456), (368, -434), (577, -454),
    (252, -446), (198, -444), (83, -426), (13, -428), (771, -481), (138, -495), (168, -493),
    (156, -518), (127, -544), (74, -526), (6, -481), (243, -532), (876, -577), (290, -553),
    (199, -575), (227, -610), (211, -583), (326, -620), (115, -616), (598, -620), (605, -649),
    (430, -657), (19, -647), (655, -704), (557, -692), (475, -725), (167, -659), (112, -690),
    (183, -727), (31, -768), (1326, -795), (340, -850), (157, -858), (117, -821), (80, -817),
    (34, -900), (100, -936), (70, -1004), (136, -1035), (93, -1090), (175, -1108),
    (47, -1151), (123, -1194), (185, -1231), (77, -1367), (15, -831), (113, -862),
    (194, -874), (142, -764), (64, -690), (15, -690), (531, -1024), (622, -1237),
    (681, -1317), (253, -1060), (1080, -1675), (845, -1816), (645, -1938), (642, -1729),
    (593, -2098), (678, -2215), (207, -1600), (152, -1662), (77, -1643), (119, -1883),
]

BLUE = "#0000ff"
RED = "#ff0000"
SERIF = ["DejaVu Serif"]

fig = plt.figure(figsize=(13.76, 9.94), dpi=100)
ax1 = fig.add_axes([0.0501, 0.0694, 0.4448, 0.9256])
ax2 = fig.add_axes([0.5487, 0.0694, 0.4404, 0.9256])


def draw_boxes(ax, boxes, lw):
    for b0, b1, l0, l1 in boxes:
        ax.add_patch(Rectangle((b0, l0), b1 - b0, l1 - l0, fill=False,
                               edgecolor=BLUE, linewidth=lw, zorder=3))


def style_axis(ax, xmaj, xmin, ymaj, ymin):
    ax.xaxis.set_major_locator(MultipleLocator(xmaj))
    ax.xaxis.set_minor_locator(MultipleLocator(xmin))
    ax.yaxis.set_major_locator(MultipleLocator(ymaj))
    ax.yaxis.set_minor_locator(MultipleLocator(ymin))
    ax.tick_params(which="both", direction="in", top=True, right=True, labelsize=12.5)
    ax.tick_params(which="major", length=7, width=0.8)
    ax.tick_params(which="minor", length=3.5, width=0.8)
    for lab in ax.get_yticklabels():
        lab.set_rotation(90)
        lab.set_va("center")
    for sp in ax.spines.values():
        sp.set_linewidth(0.8)


# left: CO stars
co_all = co_outer + co_north + co_upper + co_middle + co_lower + co_south
ax1.scatter([p[0] for p in co_all], [p[1] for p in co_all], s=3, marker="s",
            color=RED, linewidths=0, zorder=2)
draw_boxes(ax1, co_boxes, 0.8)
ax1.set_xlim(63.6, -0.1)
ax1.set_ylim(-88.4, 87.7)
style_axis(ax1, 20, 10, 20, 10)
ax1.set_xlabel("|b$^{*}$|  [$''$]", fontsize=14, family=SERIF, labelpad=11)
ax1.set_ylabel("l$^{*}$  [$''$]", fontsize=14, family=SERIF, labelpad=5)
ax1.text(0.059, 0.168, "CO v$_{\\mathrm{rad}}$ stars", transform=ax1.transAxes,
         color=RED, fontsize=17, family=SERIF, va="center")
ax1.text(0.059, 0.123, "bin boxes", transform=ax1.transAxes,
         color=BLUE, fontsize=17, family=SERIF, va="center")

# right: maser stars
maser_all = maser_north + maser_south
ax2.scatter([p[0] for p in maser_all], [p[1] for p in maser_all], s=7, marker="o",
            color=RED, linewidths=0, zorder=2)
draw_boxes(ax2, maser_boxes, 1.6)
for b1, l1, b2, l2 in maser_edges:
    ax2.plot([b1, b2], [l1, l2], color=BLUE, linewidth=1.6, zorder=3)
ax2.set_xlim(1975, -5)
ax2.set_ylim(-2320, 3338)
style_axis(ax2, 500, 100, 1000, 200)
ax2.set_xlabel("|b$^{*}$|  [$''$]", fontsize=14, family=SERIF, labelpad=11)
ax2.set_ylabel("l$^{*}$  [$''$]", fontsize=14, family=SERIF, labelpad=7)
ax2.text(0.038, 0.736, "bin boxes", transform=ax2.transAxes,
         color=BLUE, fontsize=17, family=SERIF, va="center")
ax2.text(0.038, 0.683, "Maser v$_{\\mathrm{rad}}$ stars", transform=ax2.transAxes,
         color=RED, fontsize=17, family=SERIF, va="center")

fig.savefig("out.png", dpi=100)
